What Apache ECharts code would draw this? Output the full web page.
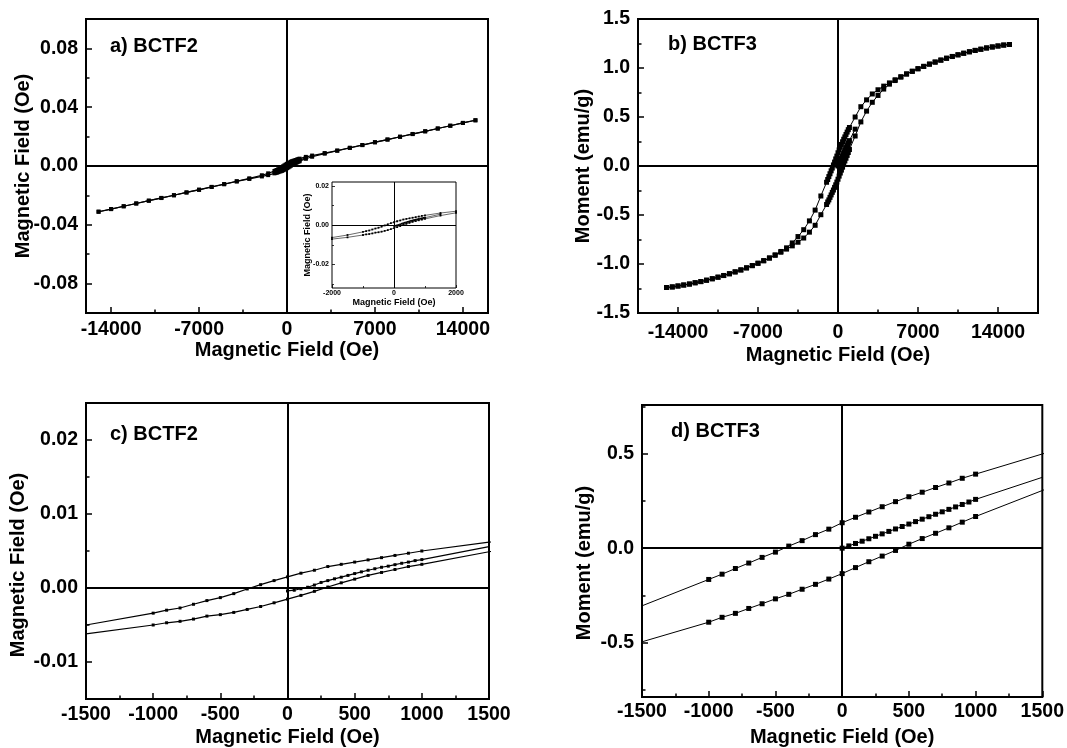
<!DOCTYPE html>
<html>
<head>
<meta charset="utf-8">
<script src="https://cdn.jsdelivr.net/npm/echarts@6/dist/echarts.min.js"></script>
<style>
  html, body { margin: 0; padding: 0; background: #fff; }
  #chart { width: 1067px; height: 748px; }
</style>
</head>
<body>
<div id="chart"></div>
<script>
// ---------------- BCTF2 hysteresis loop ----------------
// descending branch, +15 kOe -> -15 kOe
const bctf2DownField = [15000,14000,13000,12000,11000,10000,9000,8000,7000,6000,5000,4000,3000,2000,1500,
  1000,900,800,700,600,500,400,300,200,100,0,-100,-200,-300,-400,-500,-600,-700,-800,-900,-1000,
  -1500,-2000,-3000,-4000,-5000,-6000,-7000,-8000,-9000,-10000,-11000,-12000,-13000,-14000,-15000];
const bctf2DownMoment = [0.0311,0.0293,0.0274,0.0255,0.0236,0.0218,0.0199,0.0180,0.0162,0.0143,0.0124,0.0105,0.0088,0.0071,0.0062,
  0.0050,0.0047,0.0044,0.0041,0.0038,0.0035,0.0032,0.0029,0.0024,0.0020,0.0015,0.0010,0.00045,-0.00013,-0.00076,-0.0013,-0.0017,-0.0022,-0.0027,-0.0030,-0.0034,
  -0.0050,-0.0063,-0.0084,-0.0104,-0.0123,-0.0142,-0.0161,-0.0180,-0.0199,-0.0217,-0.0236,-0.0255,-0.0274,-0.0293,-0.0311];
// ascending branch, -15 kOe -> +15 kOe
const bctf2UpField = [-15000,-14000,-13000,-12000,-11000,-10000,-9000,-8000,-7000,-6000,-5000,-4000,-3000,-2000,-1500,
  -1000,-900,-800,-700,-600,-500,-400,-300,-200,-100,0,100,200,300,400,500,600,700,800,900,1000,
  1500,2000,3000,4000,5000,6000,7000,8000,9000,10000,11000,12000,13000,14000,15000];
const bctf2UpMoment = [-0.0311,-0.0293,-0.0274,-0.0255,-0.0236,-0.0218,-0.0199,-0.0180,-0.0162,-0.0143,-0.0124,-0.0105,-0.0088,-0.0071,-0.0062,
  -0.0050,-0.0047,-0.0045,-0.0042,-0.0038,-0.0036,-0.0033,-0.0029,-0.0025,-0.0020,-0.0015,-0.0010,-0.00045,0.00013,0.0007,0.0012,0.0017,0.0021,0.0025,0.0029,0.0032,
  0.0049,0.0063,0.0084,0.0104,0.0123,0.0142,0.0161,0.0180,0.0199,0.0217,0.0236,0.0255,0.0274,0.0293,0.0311];
// initial magnetisation curve
const bctf2VirginField = [0,50,100,150,200,250,300,350,400,450,500,550,600,650,700,750,800,850,900,950,1000,1500];
const bctf2VirginMoment = [-0.0004,-0.0003,-0.0001,0.0001,0.0004,0.00075,0.0010,0.00124,0.00146,0.0017,0.00195,
  0.00218,0.0024,0.0026,0.0028,0.00295,0.00315,0.00334,0.0035,0.0037,0.00384,0.0056];

// ---------------- BCTF3 hysteresis loop ----------------
const bctf3DownField = [15000,14500,14000,13500,13000,12500,12000,11500,11000,10500,10000,9500,9000,8500,8000,7500,7000,
  6500,6000,5500,5000,4500,4000,3500,3000,2500,2000,1500,
  1000,900,800,700,600,500,400,300,200,100,0,-100,-200,-300,-400,-500,-600,-700,-800,-900,-1000,
  -1500,-2000,-2500,-3000,-3500,-4000,-4500,-5000,-5500,-6000,-6500,-7000,-7500,-8000,-8500,-9000,-9500,-10000,
  -10500,-11000,-11500,-12000,-12500,-13000,-13500,-14000,-14500,-15000];
const bctf3DownMoment = [1.240,1.235,1.225,1.215,1.205,1.192,1.180,1.166,1.151,1.135,1.118,1.100,1.081,1.061,1.040,1.017,0.993,
  0.967,0.940,0.911,0.880,0.848,0.815,0.778,0.735,0.675,0.605,0.500,
  0.393,0.371,0.346,0.322,0.297,0.273,0.247,0.220,0.192,0.164,0.135,0.101,0.072,0.040,0.011,-0.021,-0.049,-0.079,-0.108,-0.138,-0.166,
  -0.306,-0.450,-0.560,-0.650,-0.720,-0.785,-0.835,-0.872,-0.907,-0.938,-0.966,-0.992,-1.016,-1.039,-1.060,-1.080,-1.099,-1.117,
  -1.134,-1.150,-1.165,-1.179,-1.191,-1.204,-1.214,-1.224,-1.233,-1.240];
const bctf3UpField = [-15000,-14500,-14000,-13500,-13000,-12500,-12000,-11500,-11000,-10500,-10000,-9500,-9000,-8500,-8000,-7500,-7000,
  -6500,-6000,-5500,-5000,-4500,-4000,-3500,-3000,-2500,-2000,-1500,
  -1000,-900,-800,-700,-600,-500,-400,-300,-200,-100,0,100,200,300,400,500,600,700,800,900,1000,
  1500,2000,2500,3000,3500,4000,4500,5000,5500,6000,6500,7000,7500,8000,8500,9000,9500,10000,
  10500,11000,11500,12000,12500,13000,13500,14000,14500,15000];
const bctf3UpMoment = [-1.240,-1.235,-1.225,-1.215,-1.205,-1.192,-1.180,-1.166,-1.151,-1.135,-1.118,-1.100,-1.081,-1.061,-1.040,-1.017,-0.993,
  -0.967,-0.940,-0.911,-0.880,-0.848,-0.815,-0.778,-0.735,-0.675,-0.605,-0.497,
  -0.393,-0.367,-0.346,-0.320,-0.295,-0.269,-0.245,-0.218,-0.192,-0.164,-0.135,-0.103,-0.072,-0.042,-0.012,0.021,0.051,0.079,0.108,0.138,0.168,
  0.306,0.450,0.560,0.650,0.720,0.785,0.835,0.872,0.907,0.938,0.966,0.992,1.016,1.039,1.060,1.080,1.099,1.117,
  1.134,1.150,1.165,1.179,1.191,1.204,1.214,1.224,1.233,1.240];
const bctf3VirginField = [0,50,100,150,200,250,300,350,400,450,500,550,600,650,700,750,800,850,900,950,1000,1500];
const bctf3VirginMoment = [0,0.012,0.025,0.037,0.050,0.063,0.076,0.089,0.102,0.115,0.128,0.141,0.154,0.167,0.180,
  0.193,0.206,0.219,0.232,0.245,0.259,0.376];

// ---------------- tick values ----------------
const wideFieldTicks = [-14000,-7000,0,7000,14000];
const wideFieldMinor = [-10500,-3500,3500,10500];
const narrowFieldTicks = [-1500,-1000,-500,0,500,1000,1500];
const narrowFieldMinor = [-1250,-750,-250,250,750,1250];
const insetFieldTicks = [-2000,0,2000];
const insetFieldMinor = [-1000,1000];
const aMomentTicks = [-0.08,-0.04,0,0.04,0.08];
const aMomentMinor = [-0.06,-0.02,0.02,0.06];
const bMomentTicks = [-1.5,-1.0,-0.5,0,0.5,1.0,1.5];
const bMomentMinor = [-1.25,-0.75,-0.25,0.25,0.75,1.25];
const cMomentTicks = [-0.01,0,0.01,0.02];
const cMomentMinor = [-0.005,0.005,0.015];
const dMomentTicks = [-0.5,0,0.5];
const dMomentMinor = [-0.75,-0.25,0.25,0.75];
const insetMomentTicks = [-0.02,0,0.02];
const insetMomentMinor = [-0.03,-0.01,0.01];

const FONT = "'Liberation Sans', Arial, Helvetica, sans-serif";
const NARROW = "'Liberation Sans Narrow', 'Liberation Sans', Arial, sans-serif";

const pairs = (f, m) => f.map((h, i) => [h, m[i]]);
const fixed = d => v => Number(v).toFixed(d);
const plain = v => String(v);

const panels = [
  { // a) BCTF2, full field range
    grid: { left: 86, top: 19, width: 402, height: 294 },
    border: 2, tickW: 1.5, tickMajor: 6, tickMinor: 3.5, labelSize: 19.5, nameSize: 20, font: FONT,
    x: { min: -16000, max: 16000, major: wideFieldTicks, minor: wideFieldMinor, fmt: plain, margin: 7, name: 'Magnetic Field (Oe)', gap: 23 },
    y: { min: -0.1, max: 0.1, major: aMomentTicks, minor: aMomentMinor, fmt: fixed(2), margin: 8, name: 'Magnetic Field (Oe)', gap: 53, shift: 0 },
    loops: [bctf2DownField, bctf2DownMoment, bctf2UpField, bctf2UpMoment, bctf2VirginField, bctf2VirginMoment],
    sym: 4, lineW: 1.2, lineColor: '#000', zeroW: 2, edge: null
  },
  { // b) BCTF3, full field range
    grid: { left: 638, top: 19, width: 400, height: 294 },
    border: 2, tickW: 1.5, tickMajor: 6, tickMinor: 3.5, labelSize: 19.5, nameSize: 20, font: FONT,
    x: { min: -17500, max: 17500, major: wideFieldTicks, minor: wideFieldMinor, fmt: plain, margin: 10, name: 'Magnetic Field (Oe)', gap: 32 },
    y: { min: -1.5, max: 1.5, major: bMomentTicks, minor: bMomentMinor, fmt: fixed(1), margin: 8, name: 'Moment (emu/g)', gap: 45, shift: 0 },
    loops: [bctf3DownField, bctf3DownMoment, bctf3UpField, bctf3UpMoment, bctf3VirginField, bctf3VirginMoment],
    sym: 5, lineW: 1, lineColor: '#000', zeroW: 2, edge: null
  },
  { // c) BCTF2, low field
    grid: { left: 86, top: 403, width: 403, height: 296 },
    border: 2, tickW: 1.5, tickMajor: 6, tickMinor: 3.5, labelSize: 19.5, nameSize: 20, font: FONT,
    x: { min: -1500, max: 1500, major: narrowFieldTicks, minor: narrowFieldMinor, fmt: plain, margin: 6, name: 'Magnetic Field (Oe)', gap: 28 },
    y: { min: -0.015, max: 0.025, major: cMomentTicks, minor: cMomentMinor, fmt: fixed(2), margin: 8, name: 'Magnetic Field (Oe)', gap: 58, shift: 14 },
    loops: [bctf2DownField, bctf2DownMoment, bctf2UpField, bctf2UpMoment, bctf2VirginField, bctf2VirginMoment],
    sym: 3, lineW: 1.2, lineColor: '#000', zeroW: 2, edge: 1500
  },
  { // d) BCTF3, low field
    grid: { left: 642, top: 405, width: 401, height: 296 },
    border: 2, tickW: 1.5, tickMajor: 6, tickMinor: 3.5, labelSize: 19.5, nameSize: 20, font: FONT,
    x: { min: -1500, max: 1500, major: narrowFieldTicks, minor: narrowFieldMinor, fmt: plain, margin: 5, name: 'Magnetic Field (Oe)', gap: 30 },
    y: { min: -0.79, max: 0.76, major: dMomentTicks, minor: dMomentMinor, fmt: fixed(1), margin: 8, name: 'Moment (emu/g)', gap: 48, shift: 12 },
    loops: [bctf3DownField, bctf3DownMoment, bctf3UpField, bctf3UpMoment, bctf3VirginField, bctf3VirginMoment],
    sym: 5, lineW: 1, lineColor: '#000', zeroW: 2, edge: 1500
  },
  { // inset of a): BCTF2 within +-2 kOe
    grid: { left: 332, top: 182, width: 124, height: 106 },
    border: 1, tickW: 0.8, tickMajor: 3, tickMinor: 2, labelSize: 7, nameSize: 9, font: NARROW,
    x: { min: -2000, max: 2000, major: insetFieldTicks, minor: insetFieldMinor, fmt: plain, margin: 2, name: 'Magnetic Field (Oe)', gap: 9 },
    y: { min: -0.032, max: 0.022, major: insetMomentTicks, minor: insetMomentMinor, fmt: fixed(2), margin: 3, name: 'Magnetic Field (Oe)', gap: 20, shift: 0 },
    loops: [bctf2DownField, bctf2DownMoment, bctf2UpField, bctf2UpMoment, bctf2VirginField, bctf2VirginMoment],
    sym: 1.8, lineW: 0.8, lineColor: '#444', zeroW: 1, edge: null
  }
];

const grids = [], xAxes = [], yAxes = [], series = [];

panels.forEach((p, gi) => {
  grids.push(Object.assign({
    show: true, borderColor: '#000', borderWidth: p.border, backgroundColor: '#fff', containLabel: false
  }, p.grid));

  const labelStyle = { color: '#000', fontFamily: p.font, fontWeight: 'bold', fontSize: p.labelSize };
  const nameStyle = { color: '#000', fontFamily: p.font, fontWeight: 'bold', fontSize: p.nameSize };
  const hiddenLine = { show: false, onZero: false };

  // main x axis with labelled ticks, then a second one carrying minor ticks
  xAxes.push({
    type: 'value', gridIndex: gi, position: 'bottom', min: p.x.min, max: p.x.max,
    axisLine: hiddenLine, splitLine: { show: false },
    axisTick: { show: true, inside: true, length: p.tickMajor, customValues: p.x.major, lineStyle: { color: '#000', width: p.tickW } },
    axisLabel: Object.assign({ show: true, customValues: p.x.major, formatter: p.x.fmt, margin: p.x.margin }, labelStyle),
    name: p.x.name, nameLocation: 'middle', nameGap: p.x.gap, nameTextStyle: nameStyle
  });
  xAxes.push({
    type: 'value', gridIndex: gi, position: 'bottom', min: p.x.min, max: p.x.max,
    axisLine: hiddenLine, splitLine: { show: false }, axisLabel: { show: false },
    axisTick: { show: true, inside: true, length: p.tickMinor, customValues: p.x.minor, lineStyle: { color: '#000', width: p.tickW } }
  });
  yAxes.push({
    type: 'value', gridIndex: gi, position: 'left', min: p.y.min, max: p.y.max,
    axisLine: hiddenLine, splitLine: { show: false },
    axisTick: { show: true, inside: true, length: p.tickMajor, customValues: p.y.major, lineStyle: { color: '#000', width: p.tickW } },
    axisLabel: Object.assign({ show: true, customValues: p.y.major, formatter: p.y.fmt, margin: p.y.margin }, labelStyle),
    name: p.y.name, nameLocation: 'middle', nameGap: p.y.gap, nameMoveOverlap: false,
    nameTextStyle: Object.assign({ padding: [0, p.y.shift * 2, 0, 0] }, nameStyle)
  });
  yAxes.push({
    type: 'value', gridIndex: gi, position: 'left', min: p.y.min, max: p.y.max,
    axisLine: hiddenLine, splitLine: { show: false }, axisLabel: { show: false },
    axisTick: { show: true, inside: true, length: p.tickMinor, customValues: p.y.minor, lineStyle: { color: '#000', width: p.tickW } }
  });

  const L = p.loops;
  const branches = [pairs(L[0], L[1]), pairs(L[2], L[3]), pairs(L[4], L[5])];
  const size = p.edge == null ? p.sym : (v => (Math.abs(v[0]) >= p.edge ? 0 : p.sym));
  branches.forEach((data, bi) => {
    const s = {
      type: 'line', xAxisIndex: gi * 2, yAxisIndex: gi * 2, data: data,
      symbol: 'rect', symbolSize: size, showAllSymbol: true, clip: true, silent: true,
      lineStyle: { color: p.lineColor, width: p.lineW },
      itemStyle: { color: '#000', borderWidth: 0 },
      z: 3
    };
    if (bi === 0) {
      // zero field / zero moment reference lines
      s.markLine = {
        silent: true, symbol: ['none', 'none'], label: { show: false }, animation: false,
        lineStyle: { color: '#000', width: p.zeroW, type: 'solid' },
        emphasis: { disabled: true },
        data: [{ xAxis: 0 }, { yAxis: 0 }]
      };
    }
    series.push(s);
  });
});

const panelTitles = [
  { text: 'a) BCTF2', x: 110, y: 46 },
  { text: 'b) BCTF3', x: 668, y: 44 },
  { text: 'c) BCTF2', x: 110, y: 434 },
  { text: 'd) BCTF3', x: 671, y: 431 }
];

const chart = echarts.init(document.getElementById('chart'), null, { renderer: 'canvas' });
chart.setOption({
  backgroundColor: '#fff',
  animation: false,
  grid: grids,
  xAxis: xAxes,
  yAxis: yAxes,
  series: series,
  graphic: panelTitles.map(t => ({
    type: 'text', x: t.x, y: t.y, z: 10,
    style: { text: t.text, fill: '#000', font: 'bold 20px ' + FONT, textVerticalAlign: 'middle', verticalAlign: 'middle' }
  }))
});
</script>
</body>
</html>
